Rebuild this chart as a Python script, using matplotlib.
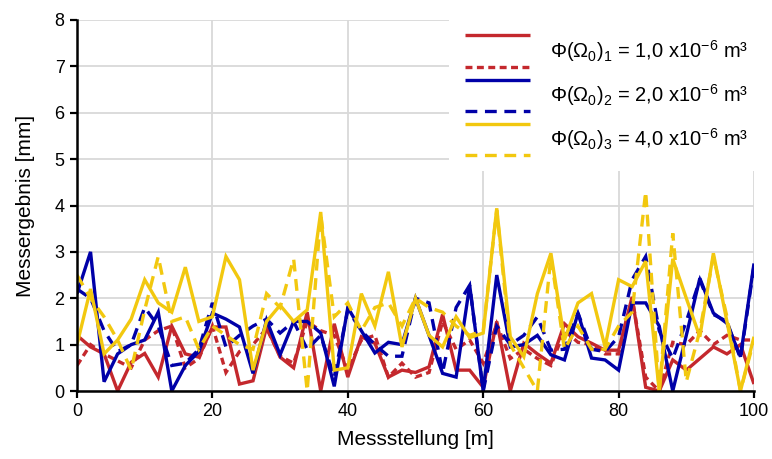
import matplotlib
matplotlib.use("Agg")
import matplotlib.pyplot as plt
from matplotlib.lines import Line2D
from matplotlib.legend_handler import HandlerBase

plt.rcParams["font.family"] = ["Liberation Sans", "DejaVu Sans"]
plt.rcParams["mathtext.fontset"] = "custom"
plt.rcParams["mathtext.rm"] = "Liberation Sans"
plt.rcParams["mathtext.it"] = "Liberation Sans:italic"
plt.rcParams["mathtext.bf"] = "Liberation Sans:bold"
plt.rcParams["mathtext.default"] = "regular"
plt.rcParams["lines.scale_dashes"] = False

# Measuring positions [m]
positions = list(range(0, 101, 2))

# Phi_1 = 1.0e-6 m^3
red_solid = [1.2, 0.95, 0.8, 0.0, 0.62, 0.81, 0.3, 1.4, 0.8, 0.73,
             1.38, 1.38, 0.15, 0.22, 1.38, 0.73, 0.5, 1.7, 0.0, 1.45,
             0.3, 1.17, 1.03, 0.3, 0.45, 0.4, 0.52, 1.65, 0.45, 0.45,
             0.08, 1.5, 0.0, 1.03, 0.8, 0.6, 1.45, 1.17, 1.03, 0.88,
             0.88, 2.03, 0.08, 0.0, 0.67, 0.45, 0.7, 0.95, 0.8, 1.0,
             0.15]
red_dashed = [0.55, 1.0, 0.8, 0.65, 0.5, 1.1, 1.3, 1.4, 0.5, 0.7,
              1.4, 0.4, 0.85, 1.0, 1.35, 0.75, 0.6, 1.5, 1.3, 1.2,
              0.45, 1.1, 1.2, 0.3, 0.6, 0.3, 0.4, 1.5, 0.9, 1.1,
              0.6, 1.45, 0.7, 0.9, 0.7, 0.55, 1.3, 1.05, 1.0, 0.8,
              0.8, 2.0, 0.3, 0.0, 1.05, 1.0, 1.3, 1.0, 1.2, 1.1,
              1.1]

# Phi_2 = 2.0e-6 m^3
blue_solid = [2.1, 3.0, 0.2, 0.8, 1.0, 1.1, 1.7, 0.0, 0.55, 0.85,
              1.68, 1.55, 1.38, 0.38, 1.53, 0.78, 1.5, 1.5, 1.25, 0.1,
              1.8, 1.3, 0.82, 1.05, 1.0, 2.0, 1.2, 0.38, 0.3, 2.28,
              0.0, 2.5, 0.95, 1.0, 1.2, 0.78, 0.67, 1.68, 0.71, 0.67,
              0.45, 1.9, 1.9, 1.4, 0.0, 1.2, 2.43, 1.68, 1.46, 0.74,
              2.75]
blue_dashed = [2.2, 2.0, 1.3, 0.85, 1.0, 1.8, 1.4, 0.55, 0.6, 0.9,
               1.9, 0.95, 1.2, 1.4, 1.55, 1.25, 1.5, 0.9, 1.2, 0.3,
               1.75, 1.3, 1.0, 0.75, 0.75, 2.0, 1.9, 0.4, 1.8, 2.28,
               0.0, 1.4, 1.0, 1.2, 1.6, 0.88, 0.9, 1.68, 0.9, 0.85,
               1.17, 2.4, 2.9, 1.3, 0.7, 1.5, 2.4, 1.65, 1.5, 0.7,
               2.7]

# Phi_3 = 4.0e-6 m^3
yellow_solid = [1.0, 2.2, 0.8, 1.1, 1.55, 2.4, 1.9, 1.7, 2.67, 1.5,
                1.6, 2.9, 2.4, 0.45, 1.5, 1.85, 1.5, 1.75, 3.86, 0.45,
                0.5, 2.1, 1.4, 2.57, 0.95, 2.0, 1.2, 0.95, 1.6, 1.15,
                1.25, 3.94, 1.17, 0.74, 2.1, 2.97, 1.1, 1.9, 2.1, 0.95,
                2.4, 2.25, 2.8, 0.0, 2.85, 2.0, 1.17, 2.97, 1.5, 0.0,
                1.17]
yellow_dashed = [2.5, 2.0, 1.6, 1.1, 0.45, 1.75, 2.9, 1.5, 1.6, 0.9,
                 1.4, 1.2, 1.0, 0.9, 2.1, 1.8, 2.85, 0.0, 3.8, 1.6,
                 1.9, 1.3, 1.8, 1.9, 1.4, 2.0, 1.8, 1.7, 1.4, 1.2,
                 1.3, 3.9, 1.0, 0.5, 0.0, 2.9, 0.9, 1.4, 0.9, 0.9,
                 1.4, 1.7, 4.3, 0.0, 3.4, 0.2, 1.3, 2.9, 1.6, 0.0,
                 1.1]

labels = ["Φ(Ω$_0$)$_1$ = 1,0 x10$^{-6}$ m³",
          "Φ(Ω$_0$)$_2$ = 2,0 x10$^{-6}$ m³",
          "Φ(Ω$_0$)$_3$ = 4,0 x10$^{-6}$ m³"]
x_ticks = [0, 20, 40, 60, 80, 100]
y_ticks = [0, 1, 2, 3, 4, 5, 6, 7, 8]

RED = "#C4282D"
BLUE = "#0000A8"
YELLOW = "#F2C80F"
LW = 2.4
red_dash = (0, (5.0, 3.2))
long_dash = (0, (8.5, 5.5))

fig = plt.figure(figsize=(7.72, 4.59), dpi=100)
ax = fig.add_axes([77 / 772, 1 - 391 / 459, (754 - 77) / 772, (391 - 20) / 459])

series = [
    (red_solid, RED, "-"), (red_dashed, RED, red_dash),
    (blue_solid, BLUE, "-"), (blue_dashed, BLUE, long_dash),
    (yellow_solid, YELLOW, "-"), (yellow_dashed, YELLOW, long_dash),
]
handles = []
for vals, col, ls in series:
    ln, = ax.plot(positions, vals, color=col, linestyle=ls, linewidth=LW,
                  solid_joinstyle="miter", dash_joinstyle="miter",
                  solid_capstyle="butt")
    handles.append(ln)

ax.set_xlim(0, 100)
ax.set_ylim(0, 8)
ax.set_xticks(x_ticks)
ax.set_yticks(y_ticks)
ax.grid(True, color="#D9D9D9", linewidth=1.3)
ax.set_axisbelow(True)
for s in ("top", "right"):
    ax.spines[s].set_visible(False)
for s in ("left", "bottom"):
    ax.spines[s].set_linewidth(1.8)
    ax.spines[s].set_color("black")
    ax.spines[s].set_zorder(3)
ax.tick_params(axis="both", direction="out", length=5, width=1.6,
               labelsize=13, colors="black", pad=4)
ax.set_xlabel("Messstellung [m]", fontsize=15, labelpad=7)
ax.set_ylabel("Messergebnis [mm]", fontsize=15, labelpad=14)


class PairHandler(HandlerBase):
    """Draws a solid and a dashed line above each other for one entry."""

    def create_artists(self, legend, orig_handle, xdescent, ydescent,
                       width, height, fontsize, trans):
        solid, dashed = orig_handle
        cy = height / 2 - ydescent
        d = 11.3
        arts = []
        for h, y in ((solid, cy + d), (dashed, cy - d)):
            ln = Line2D([-xdescent, -xdescent + width], [y, y],
                        color=h.get_color(), linewidth=LW,
                        solid_capstyle="butt")
            if h.get_linestyle() != "-":
                ln.set_dashes(h._unscaled_dash_pattern[1])
            ln.set_transform(trans)
            arts.append(ln)
        return arts


pairs = [(handles[0], handles[1]), (handles[2], handles[3]), (handles[4], handles[5])]
leg = fig.legend(pairs, labels, handler_map={tuple: PairHandler()},
                 loc="upper left", bbox_to_anchor=(449 / 772, 1 - 20 / 459),
                 bbox_transform=fig.transFigure, borderaxespad=0,
                 frameon=True, fancybox=False, facecolor="white",
                 edgecolor="white", framealpha=1.0,
                 prop={"family": "Liberation Sans", "size": 14.5},
                 handlelength=3.2, handleheight=1.9, handletextpad=1.0,
                 labelspacing=0.72, borderpad=0.8)
leg.get_frame().set_linewidth(0)

fig.savefig("out.png", dpi=100)
